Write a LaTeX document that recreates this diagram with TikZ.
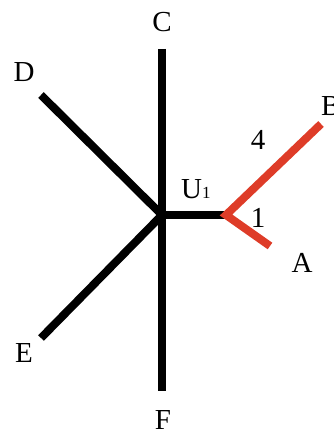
\documentclass[tikz,border=0pt]{standalone}
\usepackage{fontspec}
\setmainfont{Liberation Serif}
\definecolor{redline}{RGB}{222,60,40}
\tikzset{
  blk/.style={line width=8pt, draw=black},
  rd/.style={line width=8pt, draw=redline, line join=miter},
  lbl/.style={inner sep=0pt, anchor=base, font=\fontsize{29}{32}\selectfont}
}
\begin{document}
\begin{tikzpicture}[x=1pt,y=-1pt]
\useasboundingbox (0,0) rectangle (333,430);
\coordinate (O) at (162,215);
\coordinate (Ct) at (162,49);
\coordinate (Fb) at (162,391);
\coordinate (Dt) at (41,95);
\coordinate (Eb) at (41,338);
\coordinate (V) at (226,215);
\coordinate (Bt) at (321,124);
\coordinate (At) at (270,246);
\draw[blk] (Ct) -- (Fb);
\draw[blk] (Dt) -- (O);
\draw[blk] (Eb) -- (O);
\draw[blk] (O) -- (V);
\draw[rd] (Bt) -- (V) -- (At);
\node[lbl] (lC) at (162,32) {C};
\node[lbl] (lD) at (24,82) {D};
\node[lbl] (lE) at (24,362) {E};
\node[lbl] (lF) at (163,429) {F};
\node[lbl] (lA) at (302,272) {A};
\node[lbl, anchor=base west] (lB) at (321,116) {B};
\node[lbl] (l4) at (258,150) {4};
\node[lbl] (l1) at (258,227) {1};
\node[lbl, anchor=base west] (lU) at (181,198) {U{\fontsize{17}{20}\selectfont 1}};
\end{tikzpicture}
\end{document}
